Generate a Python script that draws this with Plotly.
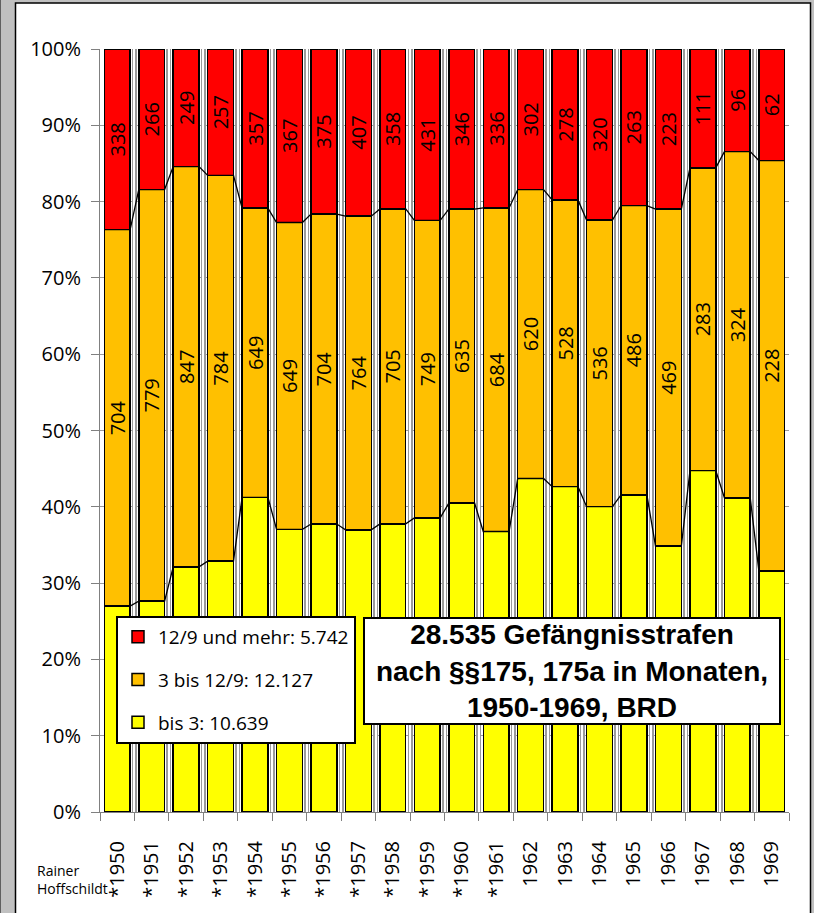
import plotly.graph_objects as go

years = [str(y) for y in range(1950, 1970)]
tick_labels = ["*" + y if int(y) <= 1961 else y for y in years]
bis3 = [385, 399, 519, 510, 706, 598, 654, 687, 645, 740, 667, 593, 716, 599, 571, 533, 370, 319, 294, 134]
mittel = [704, 779, 847, 784, 649, 649, 704, 764, 705, 749, 635, 684, 620, 528, 536, 486, 469, 283, 324, 228]
lang = [338, 266, 249, 257, 357, 367, 375, 407, 358, 431, 346, 336, 302, 278, 320, 263, 223, 111, 96, 62]
legend_names = ["bis 3: 10.639", "3 bis 12/9: 12.127", "12/9 und mehr: 5.742"]
colors = ["#FFFF00", "#FFC000", "#FF0000"]
y_ticks = list(range(0, 101, 10))
y_ticktext = [f"{v}%" for v in y_ticks]
title_text = "<b>28.535 Gefängnisstrafen<br>nach §§175, 175a in Monaten,<br>1950-1969, BRD</b>"

W, H = 814, 913
ML, MR, MT, MB = 100, 25, 49, 101
PW, PH = W - ML - MR, H - MT - MB
def px(x):
    return (x - ML) / PW
def py(y):
    return (H - MB - y) / PH

FONT = "Open Sans"
xs = list(range(len(years)))
BW = 0.75
n = len(years)

fig = go.Figure()
series = [bis3, mittel, lang]
ranks = [3, 2, 1]
for i, (vals, name, col) in enumerate(zip(series, legend_names, colors)):
    fig.add_trace(go.Bar(
        x=xs, y=vals, name=name, width=BW, legendrank=ranks[i],
        marker=dict(color=col, line=dict(color="black", width=1.5)),
        text=vals if i > 0 else None,
        texttemplate="%{text}" if i > 0 else None,
        textposition="inside" if i > 0 else "none",
        insidetextanchor="middle", textangle=-90,
        textfont=dict(family=FONT, size=20, color="black"),
        legendgroup=name, hoverinfo="skip",
    ))

# series lines connecting segment tops
totals = [a + b + c for a, b, c in zip(bis3, mittel, lang)]
cum1 = [100 * a / t for a, t in zip(bis3, totals)]
cum2 = [100 * (a + b) / t for a, b, t in zip(bis3, mittel, totals)]
for cum, xa in ((cum1, "x2"), (cum2, "x3")):
    lx, ly = [], []
    for i, c in enumerate(cum):
        lx += [i - BW / 2, i + BW / 2]
        ly += [c, c]
    fig.add_trace(go.Scatter(x=lx, y=ly, mode="lines", xaxis=xa, yaxis="y",
                             line=dict(color="black", width=1.3),
                             showlegend=False, hoverinfo="skip"))

bounds = [i - 0.5 for i in range(n + 1)]
fig.update_layout(
    width=W, height=H,
    margin=dict(l=ML, r=MR, t=MT, b=MB),
    paper_bgcolor="#c0c0c0", plot_bgcolor="rgba(0,0,0,0)",
    barmode="stack", barnorm="percent", bargap=0.25,
    font=dict(family=FONT, size=20, color="black"),
    showlegend=True,
    legend=dict(x=px(116), y=py(616), xanchor="left", yanchor="top",
                bgcolor="white", bordercolor="black", borderwidth=2,
                traceorder="grouped", tracegroupgap=15,
                font=dict(family=FONT, size=19, color="black")),
    xaxis=dict(range=[-0.5, n - 0.5], tickmode="array", tickvals=xs,
               ticktext=tick_labels, tickangle=-90, ticks="", showgrid=False,
               showline=True, linecolor="#808080", linewidth=1,
               ticklabelstandoff=20, tickfont=dict(family=FONT, size=20),
               zeroline=False),
    xaxis2=dict(overlaying="x", anchor="y", side="bottom",
                range=[-0.5, n - 0.5], tickmode="array", tickvals=bounds,
                ticks="outside", ticklen=8, tickcolor="#808080",
                showticklabels=False, showgrid=True, gridcolor="#9a9a9a",
                gridwidth=5, zeroline=False, showline=False),
    xaxis3=dict(overlaying="x", anchor="y", side="bottom",
                range=[-0.5, n - 0.5], tickmode="array", tickvals=bounds,
                ticks="", showticklabels=False, showgrid=True,
                gridcolor="white", gridwidth=2, zeroline=False, showline=False),
    yaxis=dict(range=[0, 100], tickmode="array", tickvals=y_ticks,
               ticktext=y_ticktext, ticks="outside", ticklen=8, tickcolor="#808080",
               showgrid=True, gridcolor="#9a9a9a", gridwidth=1,
               showline=True, linecolor="#808080", linewidth=1,
               ticklabelstandoff=6, tickfont=dict(family=FONT, size=20),
               zeroline=False),
    shapes=[
        dict(type="rect", xref="paper", yref="paper", layer="below",
             x0=px(15.5), x1=px(810.5), y0=py(3), y1=py(930),
             fillcolor="white", line=dict(color="black", width=1.5)),
        dict(type="line", xref="paper", yref="paper", layer="below",
             x0=px(0.5), x1=px(0.5), y0=py(0), y1=py(913),
             line=dict(color="#606060", width=1)),
    ],
    annotations=[
        dict(text=title_text, xref="paper", yref="paper",
             x=px(572), y=py(670.5), xanchor="center", yanchor="middle",
             showarrow=False, align="center",
             font=dict(family="Liberation Sans", size=28, color="black"),
             bgcolor="white", bordercolor="black", borderwidth=2,
             width=414, height=104, borderpad=0),
        dict(text="Rainer<br>Hoffschildt", xref="paper", yref="paper",
             x=px(35), y=py(879), xanchor="left", yanchor="middle",
             showarrow=False, align="left",
             font=dict(family=FONT, size=14, color="black")),
    ],
    uniformtext=dict(minsize=20, mode="show"),
)

fig.write_html("out.html", config={"displayModeBar": False},
               post_script="document.body.style.margin='0px';")
